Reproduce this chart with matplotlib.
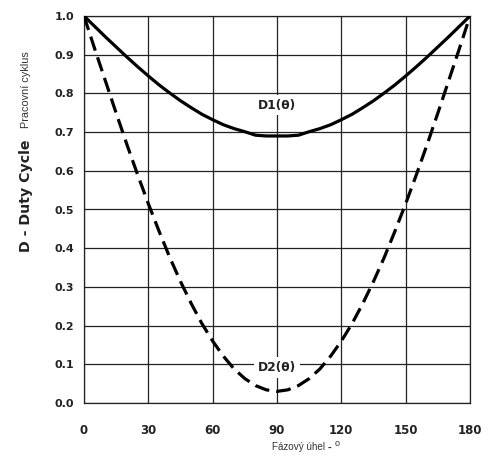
import numpy as np
import matplotlib
matplotlib.use("Agg")
import matplotlib.pyplot as plt

# Data (phase angle in degrees, duty cycle)
angle = [0, 5, 10, 15, 20, 25, 30, 35, 40, 45, 50, 55, 60, 65, 70, 75, 80, 85, 90,
         95, 100, 105, 110, 115, 120, 125, 130, 135, 140, 145, 150, 155, 160, 165, 170, 175, 180]
d1 = [1.000, 0.973, 0.946, 0.920, 0.894, 0.869, 0.845, 0.822, 0.801, 0.781, 0.763, 0.746,
      0.732, 0.719, 0.709, 0.701, 0.692, 0.690, 0.690, 0.690, 0.692, 0.701, 0.709, 0.719,
      0.732, 0.746, 0.763, 0.781, 0.801, 0.822, 0.845, 0.869, 0.894, 0.920, 0.946, 0.973, 1.000]
d2 = [1.000, 0.915, 0.832, 0.749, 0.668, 0.590, 0.515, 0.444, 0.376, 0.314, 0.257, 0.205,
      0.160, 0.121, 0.088, 0.063, 0.045, 0.034, 0.030, 0.034, 0.045, 0.063, 0.088, 0.121,
      0.160, 0.205, 0.257, 0.314, 0.376, 0.444, 0.515, 0.590, 0.668, 0.749, 0.832, 0.915, 1.000]
xticks = [0, 30, 60, 90, 120, 150, 180]
yticks = [0.0, 0.1, 0.2, 0.3, 0.4, 0.5, 0.6, 0.7, 0.8, 0.9, 1.0]
label1 = "D1(θ)"
label2 = "D2(θ)"

W, H = 488, 461
fig = plt.figure(figsize=(W / 100, H / 100), dpi=100)
ax = fig.add_axes([84 / W, 1 - 403 / H, (470 - 84) / W, (403 - 16) / H])

ax.plot(angle, d1, color="black", lw=2.3, solid_capstyle="round", zorder=3)
ax.plot(angle, d2, color="black", lw=2.3, linestyle=(0, (4.6, 2.2)), zorder=3)

ax.set_xlim(0, 180)
ax.set_ylim(0, 1.0)
ax.set_xticks(xticks)
ax.set_yticks(yticks)
ax.set_xticklabels([str(v) for v in xticks], fontsize=8.5, fontweight="bold",
                   family="DejaVu Sans", color="#222222")
ax.set_yticklabels([f"{v:.1f}" for v in yticks], fontsize=8, fontweight="bold",
                   family="DejaVu Sans", color="#222222")
ax.tick_params(axis="both", length=0)
ax.tick_params(axis="x", pad=15)
ax.tick_params(axis="y", pad=7)
ax.grid(True, color="#222222", lw=0.9)
ax.set_axisbelow(True)
for s in ax.spines.values():
    s.set_color("#222222")
    s.set_linewidth(0.9)

bbox = dict(boxstyle="square,pad=0.3", fc="white", ec="none")
ax.text(90, 0.77, label1, ha="center", va="center", fontsize=8.8, fontweight="bold",
        family="DejaVu Sans", color="#222222", bbox=bbox, zorder=4)
ax.text(90, 0.092, label2, ha="center", va="center", fontsize=8.8, fontweight="bold",
        family="DejaVu Sans", color="#222222", bbox=bbox, zorder=4)

# y-axis label (two parts)
fig.text(26 / W, 1 - 252 / H, "D - Duty Cycle", rotation=90, ha="center", va="bottom",
         fontsize=10.2, fontweight="bold", family="DejaVu Sans", color="#222222")
fig.text(26 / W, 1 - 128 / H, "Pracovní cyklus", rotation=90, ha="center", va="bottom",
         fontsize=7.8, family="Liberation Sans", color="#333333")

# x-axis label (three parts)
fig.text(272 / W, 1 - 447 / H, "Fázový úhel", ha="left", va="center",
         fontsize=7.1, family="Liberation Sans", color="#333333")
fig.text(329 / W, 1 - 448 / H, "-", ha="center", va="center",
         fontsize=8, fontweight="bold", family="Liberation Sans", color="#222222")
fig.text(337 / W, 1 - 443 / H, "o", ha="center", va="center",
         fontsize=6.5, family="Liberation Sans", color="#333333")

fig.savefig("out.png", dpi=100, facecolor="white")
